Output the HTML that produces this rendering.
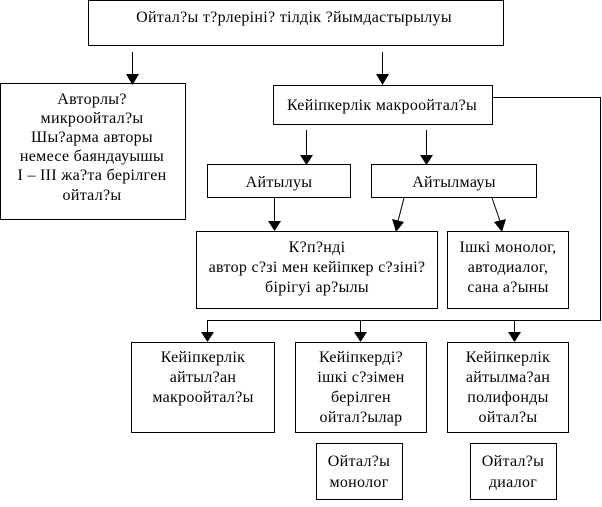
<!DOCTYPE html>
<html><head><meta charset="utf-8"><style>
body{margin:0;background:#fff}
svg text{font-family:"Liberation Serif",serif;font-size:16px;letter-spacing:0.3px;fill:#000;text-anchor:middle}
</style></head><body>
<svg width="602" height="502" viewBox="0 0 602 502" xmlns="http://www.w3.org/2000/svg">
<g fill="none" stroke="#000" stroke-width="1">
<rect x="88.5" y="0.5" width="415" height="45"/>
<rect x="0.5" y="83.5" width="185" height="136"/>
<rect x="273.5" y="85.5" width="219" height="39"/>
<rect x="207.5" y="164.5" width="143" height="33"/>
<rect x="371.5" y="164.5" width="165" height="33"/>
<rect x="196.5" y="231.5" width="241" height="77"/>
<rect x="447.5" y="231.5" width="121" height="77"/>
<rect x="131.5" y="342.5" width="143" height="90"/>
<rect x="295.5" y="342.5" width="131" height="90"/>
<rect x="447.5" y="342.5" width="121" height="90"/>
<rect x="316.5" y="443.5" width="86" height="56"/>
<rect x="470.5" y="443.5" width="86" height="56"/>
<path d="M492.5 97.5 H600.5 V320.5 H207.5"/>
</g>
<g stroke="#000" stroke-width="1" fill="none">
<path d="M132.5 52 V74"/><path d="M382.5 52 V74"/>
<path d="M306.5 130 V155"/><path d="M426.5 130 V155"/>
<path d="M274.5 198 V221"/>
<path d="M404 198 L398 221"/><path d="M492 198 L500 221"/>
<path d="M207.5 320 V332"/><path d="M360.5 320 V332"/><path d="M514.5 320 V332"/>
</g>
<g fill="#000">
<path d="M126 74 L139 74 L132.5 85 z"/>
<path d="M376 74 L389 74 L382.5 85 z"/>
<path d="M300 155 L313 155 L306.5 165 z"/>
<path d="M420 155 L433 155 L426.5 165 z"/>
<path d="M268 221 L281 221 L274.5 231 z"/>
<path d="M392 219 L404 222 L396 232 z"/>
<path d="M494 222 L506 219 L502 232 z"/>
<path d="M201 332 L214 332 L207.5 342 z"/>
<path d="M354 332 L367 332 L360.5 342 z"/>
<path d="M508 332 L521 332 L514.5 342 z"/>
</g>
<text x="294" y="22">Ойтал?ы т?рлерiнi? тiлдiк ?йымдастырылуы</text>
<text x="92" y="104">Авторлы?</text>
<text x="92" y="123">микроойтал?ы</text>
<text x="92" y="142">Шы?арма авторы</text>
<text x="92" y="161">немесе баяндауышы</text>
<text x="92" y="180">I – III жа?та берiлген</text>
<text x="92" y="200">ойтал?ы</text>
<text x="382" y="110">Кейiпкерлiк макроойтал?ы</text>
<text x="279" y="187">Айтылуы</text>
<text x="454" y="187">Айтылмауы</text>
<text x="317" y="252">К?п?нді</text>
<text x="317" y="272">автор с?зi мен кейiпкер с?зiнi?</text>
<text x="317" y="292">бiрiгуi ар?ылы</text>
<text x="508" y="252">Iшкi монолог,</text>
<text x="508" y="272">автодиалог,</text>
<text x="508" y="292">сана а?ыны</text>
<text x="203" y="362">Кейiпкерлiк</text>
<text x="203" y="382">айтыл?ан</text>
<text x="203" y="402">макроойтал?ы</text>
<text x="361" y="362">Кейiпкердi?</text>
<text x="361" y="382">iшкi с?зiмен</text>
<text x="361" y="402">берiлген</text>
<text x="361" y="422">ойтал?ылар</text>
<text x="508" y="362">Кейiпкерлiк</text>
<text x="508" y="382">айтылма?ан</text>
<text x="508" y="402">полифонды</text>
<text x="508" y="422">ойтал?ы</text>
<text x="359" y="466">Ойтал?ы</text>
<text x="359" y="487">монолог</text>
<text x="513" y="466">Ойтал?ы</text>
<text x="513" y="487">диалог</text>
</svg>
</body></html>
